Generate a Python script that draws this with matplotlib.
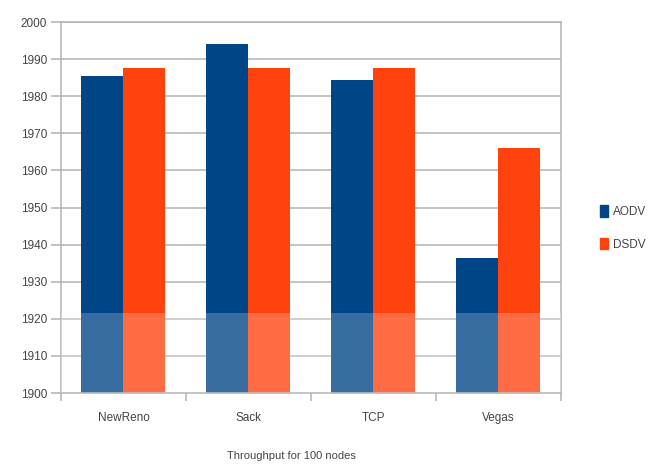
import numpy as np
import matplotlib.pyplot as plt
from matplotlib.patches import Patch

plt.rcParams['font.family'] = ['Liberation Sans', 'DejaVu Sans']

categories = ['NewReno', 'Sack', 'TCP', 'Vegas']
aodv = [1985.6, 1994.2, 1984.4, 1936.4]
dsdv = [1987.5, 1987.5, 1987.5, 1966.0]

blue = '#004586'
orange = '#ff420e'
grid = '#b3b3b3'
text = '#444444'

fig = plt.figure(figsize=(6.62, 4.70), dpi=100)
ax = fig.add_axes([0.0921, 0.1638, 0.7553, 0.7892])

x = np.arange(len(categories))
w = 0.336
ax.bar(x - w / 2, aodv, w, color=blue, zorder=2)
ax.bar(x + w / 2, dsdv, w, color=orange, zorder=2)

# faded band from the watermark across the bottom of the picture
ax.axhspan(1900, 1921.5, color='white', alpha=0.22, zorder=3, lw=0)

ax.set_ylim(1900, 2000)
ax.set_xlim(-0.5, len(categories) - 0.5)
ax.set_yticks(np.arange(1900, 2001, 10))
ax.yaxis.grid(True, color=grid, lw=1.1, zorder=0)
ax.set_axisbelow(True)

ax.set_xticks(x)
ax.set_xticklabels(categories)
ax.set_xticks(np.arange(-0.5, len(categories)), minor=True)
ax.tick_params(axis='x', which='major', length=0, pad=14, labelsize=8.5, labelcolor=text)
ax.tick_params(axis='x', which='minor', length=6, color=grid, width=1.1)
ax.tick_params(axis='y', length=7, color=grid, width=1.1, labelsize=8.5, labelcolor=text, pad=3)
for s in ax.spines.values():
    s.set_color(grid)
    s.set_linewidth(1.1)

ax.set_xlabel('Throughput for 100 nodes', fontsize=8, color=text, labelpad=14)
ax.xaxis.set_label_coords(0.46, -0.155)

handles = [Patch(color=blue), Patch(color=orange)]
fig.legend(handles, ['AODV', 'DSDV'], loc='center left', bbox_to_anchor=(0.89, 0.515),
           frameon=False, fontsize=8.5, handlelength=0.7, handleheight=1.1,
           handletextpad=0.4, labelspacing=1.7, labelcolor=text)

fig.savefig('out.png', dpi=100)
